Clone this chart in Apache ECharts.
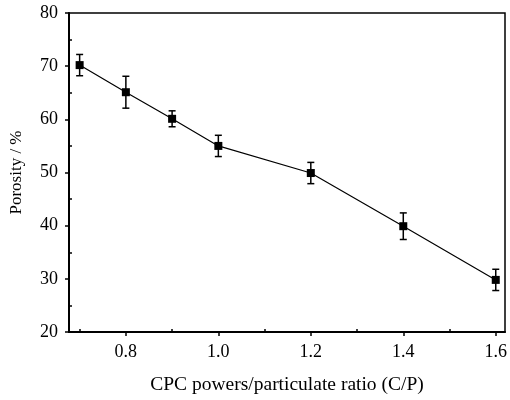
<!DOCTYPE html>
<html>
<head>
<meta charset="utf-8">
<script src="https://cdn.jsdelivr.net/npm/echarts@6/dist/echarts.min.js"></script>
<style>
  html, body { margin: 0; padding: 0; background: #fff; }
  #chart { width: 510px; height: 400px; }
</style>
</head>
<body>
<div id="chart"></div>
<script>
// C/P ratio vs porosity, with error bars
const ratios = [0.7, 0.8, 0.9, 1.0, 1.2, 1.4, 1.6];
const porosity = [70.2, 65.1, 60.1, 55.0, 49.9, 39.9, 29.8];
const errors = [2.0, 3.0, 1.5, 2.0, 2.0, 2.5, 2.0];
const xMajorTicks = [0.8, 1.0, 1.2, 1.4, 1.6];
const xMinorTicks = [0.7, 0.9, 1.1, 1.3, 1.5];
const yMinorTicks = [25, 35, 45, 55, 65, 75];

const font = 'Liberation Serif';
const chart = echarts.init(document.getElementById('chart'));

const points = ratios.map((x, i) => [x, porosity[i]]);
const bars = ratios.map((x, i) => [x, porosity[i] - errors[i], porosity[i] + errors[i]]);

const xBase = {
  type: 'value',
  min: 0.677,
  max: 1.62,
  splitLine: { show: false },
};
const yBase = {
  type: 'value',
  min: 20,
  max: 80,
  interval: 10,
  splitLine: { show: false },
};

chart.setOption({
  animation: false,
  grid: {
    left: 67, right: 5, top: 13, bottom: 67,
    show: true, borderColor: '#000', borderWidth: 1.5,
  },
  xAxis: [
    {
      ...xBase,
      name: 'CPC powers/particulate ratio (C/P)',
      nameLocation: 'middle',
      nameGap: 43,
      nameTextStyle: { fontFamily: font, fontSize: 19.5, color: '#000' },
      axisLine: { lineStyle: { color: '#000', width: 2 } },
      axisTick: { customValues: xMajorTicks, length: 4, lineStyle: { color: '#000', width: 1.5 } },
      axisLabel: {
        customValues: xMajorTicks, margin: 11,
        fontFamily: font, fontSize: 18, color: '#000',
        formatter: (v) => v.toFixed(1),
      },
    },
    {
      ...xBase,
      position: 'bottom',
      axisLine: { show: false },
      axisTick: { customValues: xMinorTicks, inside: true, length: 3, lineStyle: { color: '#000', width: 1.5 } },
      axisLabel: { show: false },
    },
  ],
  yAxis: [
    {
      ...yBase,
      name: 'Porosity / %',
      nameLocation: 'middle',
      nameGap: 44,
      nameTextStyle: { fontFamily: font, fontSize: 17, color: '#000' },
      axisLine: { lineStyle: { color: '#000', width: 2 } },
      axisTick: { length: 4, lineStyle: { color: '#000', width: 1.5 } },
      axisLabel: { margin: 11, fontFamily: font, fontSize: 18, color: '#000' },
    },
    {
      ...yBase,
      position: 'left',
      axisLine: { show: false },
      axisTick: { customValues: yMinorTicks, inside: true, length: 3, lineStyle: { color: '#000', width: 1.5 } },
      axisLabel: { show: false },
    },
  ],
  series: [
    {
      type: 'line',
      data: points,
      symbol: 'rect',
      symbolSize: 8,
      itemStyle: { color: '#000' },
      lineStyle: { color: '#000', width: 1.2 },
      z: 3,
    },
    {
      type: 'custom',
      data: bars,
      z: 2,
      renderItem: (params, api) => {
        const lo = api.coord([api.value(0), api.value(1)]);
        const hi = api.coord([api.value(0), api.value(2)]);
        const cap = 3.5;
        const style = { stroke: '#000', lineWidth: 1.5 };
        return {
          type: 'group',
          children: [
            { type: 'line', shape: { x1: lo[0], y1: lo[1], x2: hi[0], y2: hi[1] }, style },
            { type: 'line', shape: { x1: lo[0] - cap, y1: lo[1], x2: lo[0] + cap, y2: lo[1] }, style },
            { type: 'line', shape: { x1: hi[0] - cap, y1: hi[1], x2: hi[0] + cap, y2: hi[1] }, style },
          ],
        };
      },
    },
  ],
});
</script>
</body>
</html>
